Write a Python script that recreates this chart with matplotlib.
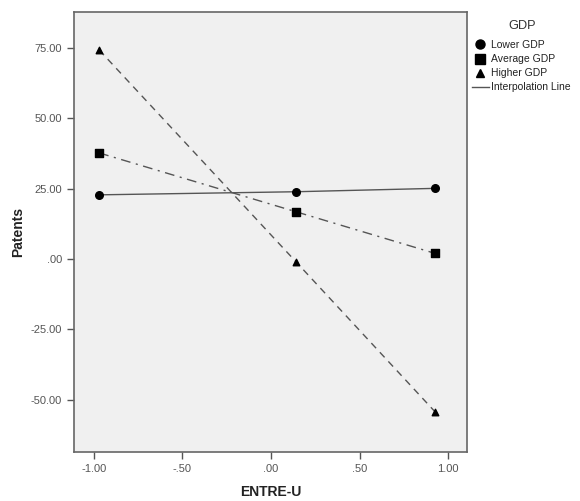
import numpy as np
import matplotlib.pyplot as plt
from matplotlib.lines import Line2D

plt.rcParams['font.family'] = ['Liberation Sans', 'DejaVu Sans']

# ENTRE-U positions and predicted patents for each GDP group
entre_u = [-0.97, 0.14, 0.925]
lower_gdp = [22.8, 23.9, 25.1]
average_gdp = [37.7, 16.8, 2.0]
higher_gdp = [74.3, -0.96, -54.3]

x_ticks = [-1.0, -0.5, 0.0, 0.5, 1.0]
x_labels = ['-1.00', '-.50', '.00', '.50', '1.00']
y_ticks = [-50, -25, 0, 25, 50, 75]
y_labels = ['-50.00', '-25.00', '.00', '25.00', '50.00', '75.00']

fig = plt.figure(figsize=(5.8, 5.01), dpi=100)
ax = fig.add_axes([0.1276, 0.098, 0.6776, 0.878])
ax.set_facecolor('#f0f0f0')

line_col = '#555555'
ax.plot(entre_u, lower_gdp, color=line_col, lw=1.0, ls='-', zorder=2)
ax.plot(entre_u, average_gdp, color=line_col, lw=1.0, ls=(0, (7, 4, 1.5, 4)), zorder=2)
ax.plot(entre_u, higher_gdp, color=line_col, lw=1.0, ls=(0, (5, 4)), zorder=2)
ax.scatter(entre_u, lower_gdp, marker='o', s=30, color='black', zorder=3)
ax.scatter(entre_u, average_gdp, marker='s', s=30, color='black', zorder=3)
ax.scatter(entre_u, higher_gdp, marker='^', s=22, color='black', zorder=3)

ax.set_xlim(-1.112, 1.106)
ax.set_ylim(-68.6, 87.8)
ax.set_xticks(x_ticks)
ax.set_xticklabels(x_labels)
ax.set_yticks(y_ticks)
ax.set_yticklabels(y_labels)
ax.tick_params(direction='out', length=5, width=1, color='#555555',
               labelsize=8, labelcolor='#555555')
for sp in ax.spines.values():
    sp.set_color('#666666')
    sp.set_linewidth(1.2)

ax.set_xlabel('ENTRE-U', fontsize=10, fontweight='bold', color='#222222', labelpad=8)
ax.set_ylabel('Patents', fontsize=10, fontweight='bold', color='#222222', labelpad=4)

handles = [
    Line2D([], [], marker='o', ls='none', color='black', markersize=6.5),
    Line2D([], [], marker='s', ls='none', color='black', markersize=6.5),
    Line2D([], [], marker='^', ls='none', color='black', markersize=6),
    Line2D([], [], ls='-', color=line_col, lw=1.0),
]
names = ['Lower GDP', 'Average GDP', 'Higher GDP', 'Interpolation Line']
fig.text(522 / 580, 1 - 26 / 501, 'GDP', fontsize=9.2, color='#333333',
         ha='center', va='center')
leg = fig.legend(handles, names, loc='upper left',
                 bbox_to_anchor=(472 / 580, 1 - 40 / 501), frameon=False,
                 fontsize=7.5, handlelength=1.6, borderpad=0,
                 handletextpad=0.25, labelspacing=0.4, borderaxespad=0)
for t in leg.get_texts():
    t.set_color('#222222')

fig.savefig('out.png', dpi=100)
